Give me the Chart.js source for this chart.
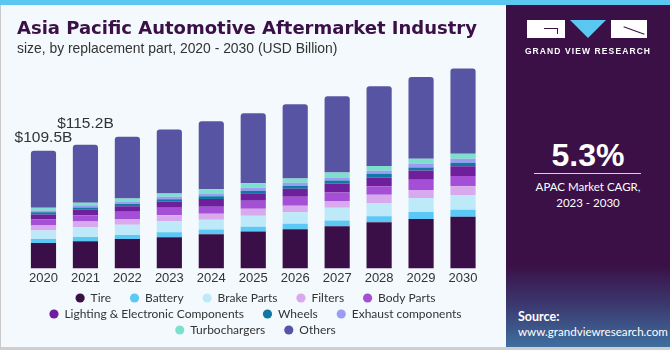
<!DOCTYPE html>
<html><head><meta charset="utf-8">
<script src="https://cdn.jsdelivr.net/npm/chart.js@4"></script>
<style>
html,body{margin:0;padding:0;}
body{width:670px;height:350px;position:relative;overflow:hidden;background:#f4f9fd;font-family:"Liberation Sans",Arial,sans-serif;}
#stripe{position:absolute;left:0;top:0;width:670px;height:5px;background:#5bc8f2;}
#frame{position:absolute;left:0;top:5px;width:670px;height:345px;box-sizing:border-box;border-left:1px solid #c9c9c9;border-bottom:3px solid #cfcfcf;}
#title{position:absolute;left:17px;top:17px;font-family:"DejaVu Sans",sans-serif;font-weight:bold;font-size:18px;color:#3a1047;white-space:nowrap;}
#sub{position:absolute;left:17px;top:40px;font-size:13.9px;color:#333;white-space:nowrap;}
#wrap{position:absolute;left:0;top:0;width:505px;height:350px;}
#panel{position:absolute;left:506px;top:5px;width:164px;height:342px;background:linear-gradient(180deg,#3a1047 0%,#3a1047 76%,#3b3a70 88%,#3f6fa0 100%);color:#fff;}
#logo{position:absolute;left:21px;top:15px;width:120px;height:18px;}
.lb{position:absolute;top:0;height:18px;background:#fff;}
#tri{position:absolute;left:43px;top:0;width:0;height:0;border-left:18px solid transparent;border-right:18px solid transparent;border-top:18px solid #5bc8f2;}
#gvr{position:absolute;left:0;top:41px;width:164px;text-align:center;font-size:8.5px;font-weight:bold;letter-spacing:1.1px;}
#cagr{position:absolute;left:0;top:132px;width:164px;text-align:center;font-size:32px;font-weight:bold;}
#line{position:absolute;left:28px;top:168px;width:107px;height:1px;background:#d8cfe0;}
#ct{position:absolute;left:0;top:174px;width:164px;text-align:center;font-family:Lato,sans-serif;font-size:11.5px;line-height:16px;}
#src{position:absolute;left:12px;top:304px;font-family:Lato,sans-serif;font-size:11.6px;line-height:15px;}
</style></head>
<body>
<div id="stripe"></div>
<div id="frame"></div>
<div id="wrap"><canvas id="c" width="505" height="350"></canvas></div>
<div id="title">Asia Pacific Automotive Aftermarket Industry</div>
<div id="sub">size, by replacement part, 2020 - 2030 (USD Billion)</div>
<div id="panel">
  <div id="logo">
    <div class="lb" style="left:0;width:38px;"></div>
    <div style="position:absolute;left:17px;top:8px;width:14px;height:1px;background:#3a1047"></div>
    <div style="position:absolute;left:30px;top:8px;width:1px;height:6px;background:#3a1047"></div>
    <div id="tri"></div>
    <div class="lb" style="left:84px;width:36px;"></div>
    <div style="position:absolute;left:96px;top:10px;width:22px;height:1px;background:#3a1047;transform:rotate(20deg)"></div>
  </div>
  <div id="gvr">GRAND VIEW RESEARCH</div>
  <div id="cagr">5.3%</div>
  <div id="line"></div>
  <div id="ct">APAC Market CAGR,<br>2023 - 2030</div>
  <div id="src"><b style="font-size:12.5px">Source:</b><br>www.grandviewresearch.com</div>
</div>
<script>
const years = ["2020","2021","2022","2023","2024","2025","2026","2027","2028","2029","2030"];
const tire      = [23.7,25.3,27.4,29.0,31.8,34.3,36.5,39.3,43.0,45.9,48.0];
const battery   = [3.7,4.0,3.7,4.7,4.4,4.4,5.0,5.3,5.6,6.6,6.6];
const brake     = [7.8,9.1,9.6,10.3,9.1,10.3,10.9,11.9,12.4,13.1,13.8];
const filters   = [4.7,5.3,5.3,5.6,5.6,6.6,5.9,6.3,7.5,7.5,8.1];
const body      = [5.6,5.9,6.8,6.8,6.6,7.5,8.4,7.8,8.1,9.4,9.6];
const lighting  = [4.7,5.0,5.0,5.9,7.2,6.8,7.5,8.4,8.1,8.7,9.1];
const wheels    = [2.2,2.2,2.2,2.2,2.5,2.5,2.8,2.8,3.5,2.8,3.1];
const exhaust   = [1.5,1.9,1.9,2.2,2.5,2.8,2.8,2.8,2.8,3.7,3.7];
const turbo     = [2.5,2.5,3.1,3.1,4.0,4.0,4.0,4.7,4.4,4.4,4.7];
const others    = [53.1,54.0,57.7,59.6,63.4,65.2,69.0,71.1,74.2,76.1,79.5];
const callouts  = ["$109.5B","$115.2B"];

const series = [
  ["Tire", tire, "#3a0f47"],
  ["Battery", battery, "#5bc8f5"],
  ["Brake Parts", brake, "#bde9f9"],
  ["Filters", filters, "#d8a9ec"],
  ["Body Parts", body, "#a54fd6"],
  ["Lighting & Electronic Components", lighting, "#6f1f9b"],
  ["Wheels", wheels, "#0f78a3"],
  ["Exhaust components", exhaust, "#9c9bf5"],
  ["Turbochargers", turbo, "#7de0cc"],
  ["Others", others, "#5755a3"]
];

const datasets = series.map(([label, data, color], i) => ({
  label, data, backgroundColor: color, borderWidth: 0,
  borderRadius: i === series.length - 1 ? {topLeft: 3, topRight: 3} : 0,
  borderSkipped: false,
  barPercentage: 0.6, categoryPercentage: 1.0
}));

const calloutPlugin = {
  id: 'callouts',
  afterDatasetsDraw(chart) {
    const ctx = chart.ctx, xs = chart.scales.x, ys = chart.scales.y;
    const lift = [13, 21];
    ctx.save();
    ctx.font = '15.5px "Liberation Sans", Arial, sans-serif';
    ctx.fillStyle = '#333';
    ctx.textAlign = 'center';
    ctx.textBaseline = 'middle';
    callouts.forEach((t, i) => {
      let total = 0;
      series.forEach(s => total += s[1][i]);
      ctx.fillText(t, xs.getPixelForValue(i), ys.getPixelForValue(total) - lift[i]);
    });
    ctx.restore();
  }
};

const FONT = '"Liberation Sans", Arial, sans-serif';
const LFONT = 'Lato, "Liberation Sans", Arial, sans-serif';
new Chart(document.getElementById('c'), {
  type: 'bar',
  data: { labels: years, datasets },
  options: {
    responsive: false, animation: false,
    layout: { padding: { left: 21, right: 0, top: 59, bottom: 4 } },
    scales: {
      x: { stacked: true, grid: { display: false, drawTicks: false, tickLength: 0 }, border: { display: false },
           ticks: { color: '#333', font: { size: 13, family: FONT }, padding: 2 } },
      y: { stacked: true, display: true, min: 0, max: 195, position: 'left',
           grid: { display: false }, border: { display: false }, ticks: { display: false },
           afterFit(s) { s.width = 1.5; } },
      y2: { display: true, position: 'right', grid: { display: false }, border: { display: false },
            ticks: { display: false }, afterFit(s) { s.width = 21; } }
    },
    plugins: {
      tooltip: { enabled: false },
      legend: {
        position: 'bottom',
        labels: {
          usePointStyle: true, pointStyle: 'circle', boxWidth: 9, boxHeight: 6.5,
          padding: 4, color: '#333',
          font: { size: 12, family: LFONT },
          generateLabels(chart) {
            return chart.data.datasets.map((d, i) => ({
              text: d.label + '\u2002\u2002\u2005', fillStyle: d.backgroundColor, strokeStyle: d.backgroundColor,
              lineWidth: 0, pointStyle: 'circle', datasetIndex: i, hidden: false, fontColor: '#333'
            }));
          }
        }
      }
    }
  },
  plugins: [calloutPlugin]
});
</script>
</body></html>
